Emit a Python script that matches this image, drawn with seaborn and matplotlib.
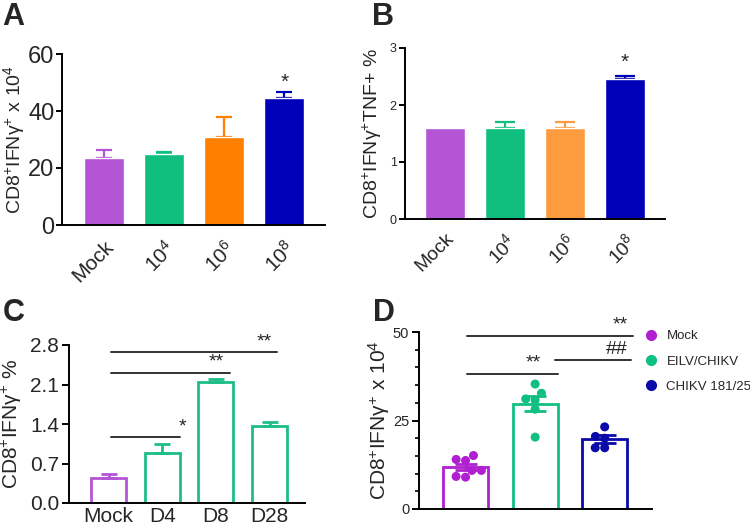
import numpy as np
import pandas as pd
import matplotlib
matplotlib.use("Agg")
import matplotlib.pyplot as plt
import seaborn as sns
from matplotlib.lines import Line2D

sns.set_theme(style="ticks")
plt.rcParams['font.family'] = ['Liberation Sans', 'DejaVu Sans']
plt.rcParams['mathtext.fontset'] = 'custom'
plt.rcParams['mathtext.rm'] = 'Liberation Sans'
plt.rcParams['mathtext.it'] = 'Liberation Sans:italic'
plt.rcParams['mathtext.bf'] = 'Liberation Sans:bold'

# ---------------- data ----------------
a_groups = ["Mock", "10$^{4}$", "10$^{6}$", "10$^{8}$"]
a_means = [23.5, 25.0, 30.8, 44.7]
a_errs = [2.8, 0.5, 7.2, 2.1]
a_colors = ["#b455d5", "#10be7e", "#ff7f00", "#0000b8"]

b_groups = ["Mock", "10$^{4}$", "10$^{6}$", "10$^{8}$"]
b_means = [1.6, 1.6, 1.6, 2.45]
b_errs = [0.0, 0.1, 0.1, 0.06]
b_colors = ["#b455d5", "#10be7e", "#fd9c3f", "#0000b8"]

c_groups = ["Mock", "D4", "D8", "D28"]
c_means = [0.45, 0.89, 2.14, 1.36]
c_errs = [0.06, 0.16, 0.06, 0.08]
c_colors = ["#b455d5", "#1dbf86", "#1dbf86", "#1dbf86"]

d_groups = ["Mock", "EILV/CHIKV", "CHIKV 181/25"]
d_mock = [15.1, 14.0, 13.7, 10.9, 10.9, 9.2, 9.0]
d_eilv = [35.3, 32.7, 31.1, 30.8, 28.2, 20.3]
d_chikv = [23.2, 20.5, 20.0, 17.3, 17.3]
d_colors = ["#b01fd0", "#10c080", "#0a0aa8"]

ylab_a = "CD8$^{+}$IFNγ$^{+}$ x 10$^{4}$"
ylab_b = "CD8$^{+}$IFNγ$^{+}$TNF+ %"
ylab_c = "CD8$^{+}$IFNγ$^{+}$ %"
ylab_d = "CD8$^{+}$IFNγ$^{+}$ x 10$^{4}$"

W, H = 750, 527
fig = plt.figure(figsize=(7.5, 5.27), dpi=100)

def box(l, t, r, b):
    return [l / W, 1 - b / H, (r - l) / W, (b - t) / H]

def style(ax, lw=1.4):
    sns.despine(ax=ax)
    for s in ["left", "bottom"]:
        ax.spines[s].set_linewidth(lw)
        ax.spines[s].set_color("black")
    ax.tick_params(axis="y", width=lw, length=5, color="black", pad=2)
    ax.tick_params(axis="x", length=0)
    ax.set_xlabel("")
    ax.set_facecolor("none")

def one_sided(ax, means, errs, colors, cap, lw=1.6):
    for i, (m, e, c) in enumerate(zip(means, errs, colors)):
        if e > 0:
            ax.errorbar(i, m, yerr=[[0], [e]], color=c, capsize=cap,
                        elinewidth=lw, capthick=lw, zorder=1)

# ---------------- Panel A ----------------
axA = fig.add_axes(box(62, 54, 325, 225))
dfa = pd.DataFrame({"group": a_groups, "value": a_means})
sns.barplot(data=dfa, x="group", y="value", hue="group", palette=a_colors,
            saturation=1, errorbar=None, width=0.667, legend=False, ax=axA, zorder=2)
one_sided(axA, a_means, a_errs, a_colors, 5.5)
axA.set_ylim(0, 60)
axA.set_xlim(-0.708, 3.68)
axA.set_yticks([0, 20, 40, 60])
axA.set_ylabel(ylab_a, fontsize=14)
axA.yaxis.set_label_coords((27 - 62) / 263, 0.5)
style(axA)
axA.tick_params(axis="y", labelsize=17, length=4, pad=1.5)
axA.set_xticks(range(4))
axA.set_xticklabels(a_groups, rotation=45, ha="right", rotation_mode="anchor", fontsize=15)
axA.tick_params(axis="x", pad=9)
axA.text(3, 49.9, "*", ha="center", va="center", fontsize=15)

# ---------------- Panel B ----------------
axB = fig.add_axes(box(405, 48, 665, 219))
dfb = pd.DataFrame({"group": b_groups, "value": b_means})
sns.barplot(data=dfb, x="group", y="value", hue="group", palette=b_colors,
            saturation=1, errorbar=None, width=0.667, legend=False, ax=axB, zorder=2)
one_sided(axB, b_means, b_errs, b_colors, 7)
axB.set_ylim(0, 3)
axB.set_xlim(-0.667, 3.67)
axB.set_yticks([0, 1, 2, 3])
axB.set_ylabel(ylab_b, fontsize=14, labelpad=4)
style(axB)
axB.tick_params(axis="y", labelsize=9, length=4)
axB.set_xticks(range(4))
axB.set_xticklabels(b_groups, rotation=45, ha="right", rotation_mode="anchor", fontsize=14)
axB.tick_params(axis="x", pad=8)
axB.text(3, 2.74, "*", ha="center", va="center", fontsize=15)

# ---------------- Panel C ----------------
axC = fig.add_axes(box(69, 345, 305, 503))
dfc = pd.DataFrame({"group": c_groups, "value": c_means})
sns.barplot(data=dfc, x="group", y="value", hue="group", palette=c_colors,
            saturation=1, errorbar=None, width=0.65, fill=False, linewidth=2.0,
            legend=False, ax=axC)
one_sided(axC, c_means, c_errs, c_colors, 6, lw=2.0)
axC.set_ylim(0, 2.8)
axC.set_xlim(-0.736, 3.66)
axC.set_yticks([0, 0.7, 1.4, 2.1, 2.8])
axC.set_yticklabels(["0.0", "0.7", "1.4", "2.1", "2.8"])
axC.set_ylabel(ylab_c, fontsize=15, labelpad=4)
style(axC)
axC.tick_params(axis="y", labelsize=15)
axC.tick_params(axis="x", labelsize=15, pad=3)
sig_c = [(0.04, 3.14, 2.67, 2.91, "**"), (0.04, 2.26, 2.31, 2.01, "**"), (0.04, 1.33, 1.17, 1.38, "*")]
for x0, x1, y, xs, lab in sig_c:
    axC.plot([x0, x1], [y, y], color="#333333", lw=1.4, clip_on=False)
    axC.text(xs, y + 0.03, lab, ha="center", va="bottom", fontsize=14)

# ---------------- Panel D ----------------
axD = fig.add_axes(box(419, 332, 652, 509))
dfd = pd.DataFrame({
    "group": [d_groups[0]] * len(d_mock) + [d_groups[1]] * len(d_eilv) + [d_groups[2]] * len(d_chikv),
    "value": d_mock + d_eilv + d_chikv,
})
sns.barplot(data=dfd, x="group", y="value", hue="group", palette=d_colors,
            saturation=1, errorbar=None, width=0.65, fill=False, linewidth=2.0,
            legend=False, ax=axD)
stats = dfd.groupby("group", sort=False)["value"].agg(["mean", "sem"])
for i, g in enumerate(d_groups):
    axD.errorbar(i, stats.loc[g, "mean"], yerr=stats.loc[g, "sem"], color=d_colors[i],
                 capsize=8, elinewidth=2, capthick=2, zorder=3)
sns.swarmplot(data=dfd, x="group", y="value", hue="group", palette=d_colors,
              size=6.5, legend=False, ax=axD, zorder=4)
axD.set_ylim(0, 50)
axD.set_xlim(-0.669, 2.68)
axD.set_yticks([0, 25, 50])
axD.set_yticks(np.arange(0, 51, 5), minor=True)
axD.set_ylabel(ylab_d, fontsize=15, labelpad=1)
style(axD)
axD.tick_params(axis="y", labelsize=10.5)
axD.tick_params(axis="y", which="minor", width=1.2, length=3, color="black")
axD.set_xticks([])
sig_d = [(0.02, 2.41, 48.9, 2.22, "**"), (1.29, 2.38, 42.0, 2.18, "##"), (0.02, 1.33, 38.2, 0.97, "**")]
for x0, x1, y, xs, lab in sig_d:
    axD.plot([x0, x1], [y, y], color="#333333", lw=1.4, clip_on=False)
    axD.text(xs, y + 0.6, lab, ha="center", va="bottom", fontsize=14)

handles = [Line2D([], [], marker="o", ls="none", color=c, markersize=7) for c in d_colors]
fig.legend(handles=handles, labels=d_groups, loc="upper left",
           bbox_to_anchor=(644 / W, 1 - 330 / H), frameon=False, fontsize=9.5,
           handlelength=1.0, handletextpad=0.7, labelspacing=1.0, borderpad=0,
           borderaxespad=0)

# panel letters
for lab, x, y in [("A", 2, 2), ("B", 372, 2), ("C", 3, 298), ("D", 373, 298)]:
    fig.text(x / W, 1 - y / H, lab, fontsize=22, fontweight="bold", ha="left", va="top")

fig.savefig("out.png", dpi=100)
